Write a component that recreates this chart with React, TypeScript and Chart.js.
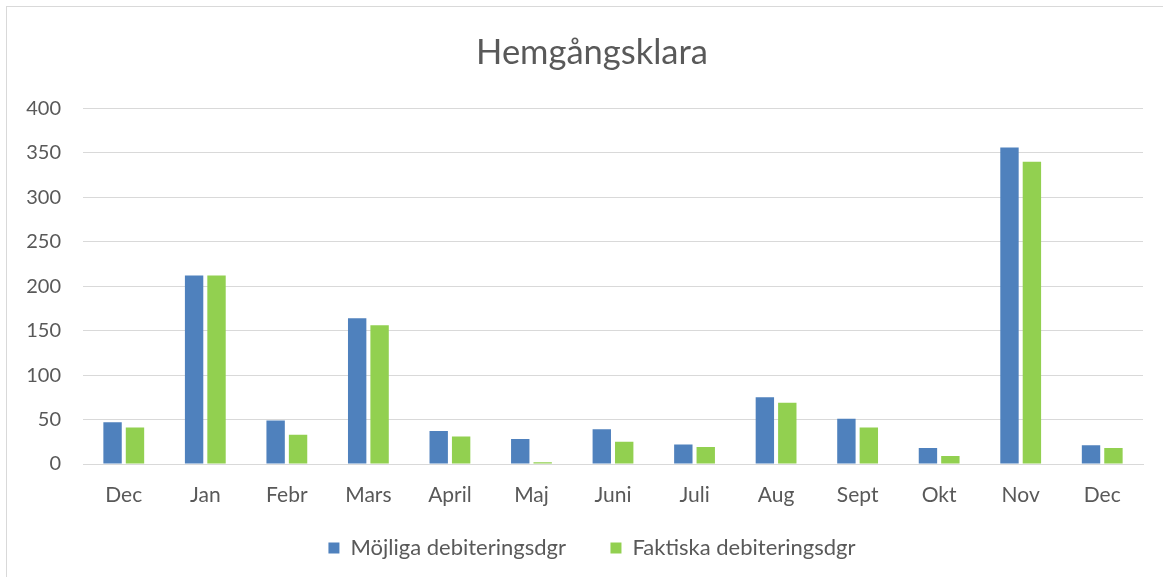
import React, { useEffect, useRef } from "react";
import { Chart, registerables } from "chart.js";

Chart.register(...registerables);

const categories = ["Dec", "Jan", "Febr", "Mars", "April", "Maj", "Juni", "Juli", "Aug", "Sept", "Okt", "Nov", "Dec"];
const mojliga = [47, 212, 49, 164, 37, 28, 39, 22, 75, 51, 18, 356, 21];
const faktiska = [41, 212, 33, 156, 31, 2, 25, 19, 69, 41, 9, 340, 18];
const seriesNames = ["Möjliga debiteringsdgr", "Faktiska debiteringsdgr"];
const titleText = "Hemgångsklara";

const FONT = "Lato, 'Open Sans', sans-serif";
const TEXT = "#595959";
const GRID = "#d9d9d9";
const CANVAS_W = 1184;

export default function App() {
  const ref = useRef<HTMLCanvasElement>(null);
  useEffect(() => {
    document.body.style.margin = "0";
    document.body.style.overflow = "hidden";
    const baseGen = Chart.defaults.plugins.legend.labels.generateLabels;
    const chart = new Chart(ref.current!, {
      type: "bar",
      data: {
        labels: categories,
        datasets: [
          { label: seriesNames[0], data: mojliga, backgroundColor: "#4F81BD", categoryPercentage: 0.55, barPercentage: 0.82 },
          { label: seriesNames[1], data: faktiska, backgroundColor: "#92D050", categoryPercentage: 0.55, barPercentage: 0.82 },
        ],
      },
      options: {
        animation: false,
        responsive: false,
        maintainAspectRatio: false,
        layout: { padding: { left: 0, right: 0, top: 0, bottom: 8 } },
        plugins: {
          title: {
            display: true,
            text: titleText,
            color: TEXT,
            font: { family: FONT, size: 34.5, weight: "normal" },
            padding: { top: 32, bottom: 35 },
          },
          legend: {
            position: "bottom",
            labels: {
              color: TEXT,
              font: { family: FONT, size: 22 },
              boxWidth: 11,
              boxHeight: 11,
              padding: 28,
              generateLabels: (c: any) => {
                const items = baseGen(c);
                if (items.length > 1) items[0].text = items[0].text + "\u00A0\u00A0\u00A0";
                return items;
              },
            },
          },
          tooltip: { enabled: false },
        },
        scales: {
          x: {
            afterFit: (s: any) => { s.height = 45; },
            grid: { display: false, drawTicks: false },
            border: { color: GRID, width: 1 },
            ticks: { color: TEXT, font: { family: FONT, size: 21 }, padding: 19 },
          },
          y: {
            min: 0,
            max: 400,
            afterFit: (s: any) => { s.width = 83; },
            grid: { color: GRID, lineWidth: 1, drawTicks: false },
            border: { display: false },
            ticks: { stepSize: 50, color: TEXT, font: { family: FONT, size: 20 }, padding: 22 },
          },
          yRight: {
            position: "right",
            min: 0,
            max: 400,
            afterFit: (s: any) => { s.width = 41; },
            grid: { display: false, drawTicks: false },
            border: { display: false },
            ticks: { display: false },
          },
        },
      },
    });
    return () => chart.destroy();
  }, []);
  return (
    <div style={{ position: "relative", width: 1163, height: 577, overflow: "hidden", background: "#fff" }}>
      <div style={{ position: "absolute", left: 6, top: 6, width: 1180, height: 600, border: "1px solid #d9d9d9", boxSizing: "border-box" }} />
      <canvas ref={ref} width={CANVAS_W} height={577} style={{ position: "absolute", left: 0, top: 0, width: CANVAS_W, height: 577 }} />
    </div>
  );
}
